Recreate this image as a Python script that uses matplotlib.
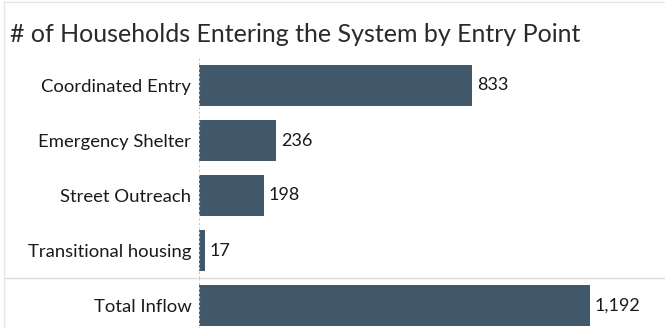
import matplotlib
matplotlib.use("Agg")
from matplotlib import pyplot as plt
from matplotlib.lines import Line2D

plt.rcParams['font.family'] = ['Lato', 'DejaVu Sans']

# entry points and household counts
entry_points = ["Coordinated Entry", "Emergency Shelter", "Street Outreach", "Transitional housing"]
households = [833, 236, 198, 17]
total_label = "Total Inflow"
total_households = 1192

title = "# of Households Entering the System by Entry Point"
bar_color = "#41576a"
text_color = "#1a1a1a"
x_max = 1421

fig = plt.figure(figsize=(6.65, 3.28), dpi=100)
fig.patch.set_facecolor("white")

ax = fig.add_axes([199 / 665, 50 / 328, 1 - 199 / 665, 220 / 328])
ax_total = fig.add_axes([199 / 665, -5 / 328, 1 - 199 / 665, 55 / 328])


def style_axis(a, labels, values, n):
    ypos = list(range(n))
    a.barh(ypos, values, height=0.75, color=bar_color)
    a.set_xlim(0, x_max)
    a.set_ylim(n - 0.5, -0.5)
    a.set_yticks(ypos)
    a.set_yticklabels(labels, fontsize=13.3, color=text_color)
    a.tick_params(axis="y", length=0, pad=5.5)
    a.set_xticks([])
    for s in a.spines.values():
        s.set_visible(False)
    a.axvline(0, color="#c8c8c8", lw=0.8, ls=(0, (2, 2)))
    for y, v in zip(ypos, values):
        a.text(v + 15, y, f"{v:,}", va="center", ha="left",
               fontsize=13, color=text_color)


style_axis(ax, entry_points, households, len(entry_points))
style_axis(ax_total, [total_label], [total_households], 1)

# separator above the total row and a faint frame on the left/top
fig.add_artist(Line2D([5 / 665, 1], [1 - 278 / 328] * 2, color="#dcdcdc", lw=1))
fig.add_artist(Line2D([4 / 665, 4 / 665], [0, 1 - 2 / 328], color="#e6e6e6", lw=1))
fig.add_artist(Line2D([4 / 665, 1], [1 - 2 / 328] * 2, color="#e6e6e6", lw=1))

fig.text(10 / 665, 1 - 42 / 328, title, fontsize=18, color="#2a2a2a",
         ha="left", va="baseline")

fig.savefig("out.png", dpi=100)
